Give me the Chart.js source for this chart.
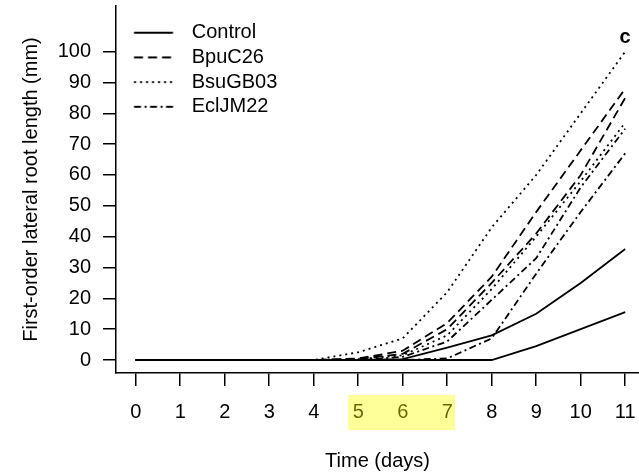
<!DOCTYPE html>
<html>
<head>
<meta charset="utf-8">
<script src="https://cdn.jsdelivr.net/npm/chart.js@4/dist/chart.umd.min.js"></script>
<style>
  html, body { margin: 0; padding: 0; background: #fff; }
  #wrap { width: 639px; height: 475px; }
</style>
</head>
<body>
<div id="wrap"><canvas id="chart" width="639" height="475"></canvas></div>
<script>
// Time axis (days) and tick values
const days = [0, 1, 2, 3, 4, 5, 6, 7, 8, 9, 10, 11];
const xTicks = [0, 1, 2, 3, 4, 5, 6, 7, 8, 9, 10, 11];
const yTicks = [0, 10, 20, 30, 40, 50, 60, 70, 80, 90, 100];

// First-order lateral root length (mm), two runs per treatment
const controlRun1 = [0, 0, 0, 0, 0, 0, 0.3, 4, 8, 15, 25, 36];
const controlRun2 = [0, 0, 0, 0, 0, 0, 0, 0, 0, 4.5, 10, 15.5];
const bpuRun1     = [0, 0, 0, 0, 0, 0.5, 3, 12, 27, 48, 68, 88];
const bpuRun2     = [0, 0, 0, 0, 0, 0.3, 2, 10, 25, 41, 60, 85];
const bsuRun1     = [0, 0, 0, 0, 0, 2.5, 7, 22, 43, 60, 80, 100];
const bsuRun2     = [0, 0, 0, 0, 0, 0.3, 1.5, 8, 23, 40, 58, 77];
const eclRun1     = [0, 0, 0, 0, 0, 0, 1, 6, 19.5, 33, 56, 75];
const eclRun2     = [0, 0, 0, 0, 0, 0, 0, 0.5, 7, 28, 48, 67];

const highlightedDays = [5, 7];

const LINE_W = 1.8;
const dashes = {
  Control: [],
  BpuC26: [9, 5],
  BsuGB03: [2, 4],
  EclJM22: [7, 3.5, 2, 3.5]
};

// Small canvas used as the legend key: a short stroke in the series' dash style
function legendKey(dash) {
  const c = document.createElement('canvas');
  c.width = 61; c.height = 6;
  const g = c.getContext('2d');
  g.strokeStyle = '#000';
  g.lineWidth = LINE_W;
  g.setLineDash(dash);
  g.beginPath();
  g.moveTo(13.3, 3);
  g.lineTo(52.3, 3);
  g.stroke();
  return c;
}

function series(label, values) {
  return {
    label: label,
    data: days.map((d, i) => ({ x: d, y: values[i] })),
    borderColor: '#000',
    backgroundColor: '#000',
    borderWidth: LINE_W,
    borderDash: dashes[label],
    pointRadius: 0,
    pointStyle: legendKey(dashes[label]),
    tension: 0,
    fill: false
  };
}

const datasets = [
  series('Control', controlRun1), series('Control', controlRun2),
  series('BpuC26', bpuRun1),      series('BpuC26', bpuRun2),
  series('BsuGB03', bsuRun1),     series('BsuGB03', bsuRun2),
  series('EclJM22', eclRun1),     series('EclJM22', eclRun2)
];

Chart.defaults.font.family = '"Liberation Sans", Arial, Helvetica, sans-serif';
Chart.defaults.color = '#000';

// Yellow band over the day 5-7 labels, and the panel letter
const extras = {
  id: 'extras',
  afterDraw(chart) {
    const ctx = chart.ctx;
    const xs = chart.scales.x;
    const x0 = xs.getPixelForValue(highlightedDays[0]) - 10;
    const x1 = xs.getPixelForValue(highlightedDays[1]) + 8;
    ctx.save();
    ctx.fillStyle = 'rgba(255, 255, 0, 0.4)';
    ctx.fillRect(x0, xs.top + 22, x1 - x0, 35);
    ctx.fillStyle = '#000';
    ctx.font = 'bold 20px "Liberation Sans", Arial, sans-serif';
    ctx.textAlign = 'center';
    ctx.textBaseline = 'middle';
    ctx.fillText('c', 625, 37);
    ctx.restore();
  }
};

new Chart(document.getElementById('chart'), {
  type: 'line',
  data: { datasets: datasets },
  options: {
    responsive: false,
    devicePixelRatio: 1,
    animation: false,
    events: [],
    layout: { padding: { top: 6, right: 0, bottom: 0, left: 0 } },
    plugins: {
      tooltip: { enabled: false },
      legend: {
        position: 'chartArea',
        align: 'start',
        title: { display: true, text: ' ', font: { size: 15, lineHeight: 1.2 }, padding: 0 },
        labels: {
          usePointStyle: true,
          pointStyleWidth: 61,
          padding: 4.7,
          color: '#000',
          font: { size: 20 },
          filter: (item) => item.datasetIndex % 2 === 0
        }
      }
    },
    scales: {
      x: {
        type: 'linear',
        min: -0.443,
        max: 11.31,
        afterBuildTicks: (s) => { s.ticks = xTicks.map(v => ({ value: v })); },
        afterFit: (s) => { s.height = 102; s.paddingLeft = 0; s.paddingRight = 0; },
        grid: { drawOnChartArea: false, drawTicks: true, tickLength: 13, color: '#000', lineWidth: 1.5 },
        border: { display: true, color: '#000', width: 1.5 },
        ticks: { color: '#000', font: { size: 20 }, padding: 14, maxRotation: 0, autoSkip: false },
        title: { display: true, text: 'Time (days)', color: '#000', font: { size: 20 }, padding: { top: 0, bottom: 2 } }
      },
      y: {
        type: 'linear',
        min: -4.22,
        max: 114.8,
        afterBuildTicks: (s) => { s.ticks = yTicks.map(v => ({ value: v })); },
        afterFit: (s) => { s.width = 116; s.paddingTop = 0; s.paddingBottom = 0; },
        grid: { drawOnChartArea: false, drawTicks: true, tickLength: 13, color: '#000', lineWidth: 1.5 },
        border: { display: true, color: '#000', width: 1.5 },
        ticks: { color: '#000', font: { size: 20 }, padding: 12, autoSkip: false },
        title: { display: true, text: 'First-order lateral root length (mm)', color: '#000', font: { size: 20 }, padding: { top: 19, bottom: 0 } }
      }
    }
  },
  plugins: [extras]
});
</script>
</body>
</html>
